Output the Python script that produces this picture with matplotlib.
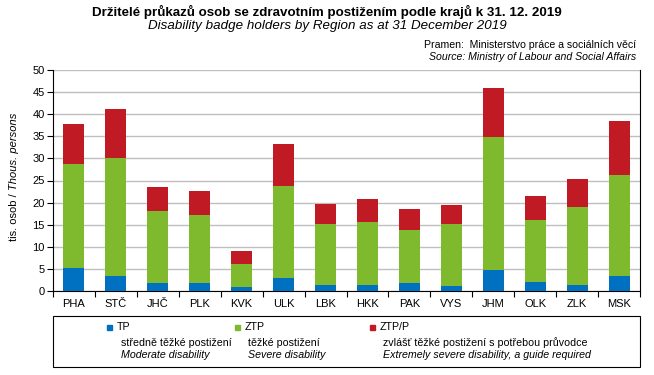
import matplotlib
matplotlib.use("Agg")
import matplotlib.pyplot as plt
from matplotlib.patches import Rectangle
import numpy as np

plt.rcParams['font.family'] = ['Liberation Sans', 'DejaVu Sans']

regions = ["PHA", "STČ", "JHČ", "PLK", "KVK", "ULK", "LBK", "HKK", "PAK", "VYS", "JHM", "OLK", "ZLK", "MSK"]
tp = [5.3, 3.5, 1.9, 1.7, 1.0, 3.0, 1.4, 1.4, 1.7, 1.2, 4.8, 2.1, 1.4, 3.5]
ztp = [23.5, 26.6, 16.3, 15.4, 5.2, 20.8, 13.8, 14.2, 12.2, 14.0, 30.0, 14.0, 17.6, 22.8]
ztpp = [9.0, 11.1, 5.4, 5.6, 2.9, 9.5, 4.5, 5.2, 4.7, 4.3, 11.1, 5.4, 6.3, 12.2]

series_names = ["TP", "ZTP", "ZTP/P"]
series_cz = ["středně těžké postižení", "těžké postižení", "zvlášť těžké postižení s potřebou průvodce"]
series_en = ["Moderate disability", "Severe disability", "Extremely severe disability, a guide required"]
colors = ["#0070C0", "#7FBA2E", "#C01B25"]

W, H = 654, 375
fig = plt.figure(figsize=(W / 100, H / 100), dpi=100)
ax = fig.add_axes([53 / W, 1 - 291 / H, (640 - 53) / W, (291 - 70) / H])

x = np.arange(len(regions))
bottom = np.zeros(len(regions))
for vals, c in zip([tp, ztp, ztpp], colors):
    ax.bar(x, vals, width=0.5, bottom=bottom, color=c, zorder=3)
    bottom += np.array(vals)

ax.set_xlim(-0.5, len(regions) - 0.5)
ax.set_ylim(0, 50)
ax.set_yticks(np.arange(0, 51, 5))
ax.yaxis.grid(True, color="#BFBFBF", linewidth=1, zorder=0)
ax.set_xticks(x)
ax.set_xticklabels(regions)
ax.set_xticks(np.arange(-0.5, len(regions), 1), minor=True)
ax.tick_params(axis='x', which='major', length=0, labelsize=8, pad=6)
ax.tick_params(axis='x', which='minor', length=4, width=0.8, direction='out')
ax.tick_params(axis='y', length=4, width=0.8, labelsize=8, direction='out', pad=2)
ax.spines['top'].set_visible(False)
for s in ['left', 'bottom', 'right']:
    ax.spines[s].set_linewidth(0.8)
    ax.spines[s].set_color('black')

# Titles
fig.text(327 / W, 1 - 12 / H, "Držitelé průkazů osob se zdravotním postižením podle krajů k 31. 12. 2019",
         ha='center', va='center', fontsize=9.6, fontweight='bold')
fig.text(327 / W, 1 - 26 / H, "Disability badge holders by Region as at 31 December 2019",
         ha='center', va='center', fontsize=9.6, style='italic')
fig.text(636 / W, 1 - 45 / H, "Pramen:  Ministerstvo práce a sociálních věcí",
         ha='right', va='center', fontsize=7.6)
fig.text(636 / W, 1 - 57 / H, "Source: Ministry of Labour and Social Affairs",
         ha='right', va='center', fontsize=7.6, style='italic')

# Y label with mixed styles
fig.canvas.draw()
r = fig.canvas.get_renderer()
t1 = fig.text(14 / W, 1 - 241 / H, "tis. osob / ", rotation=90, ha='center', va='bottom', fontsize=8)
bb = t1.get_window_extent(r)
fig.text(14 / W, bb.y1 / H, "Thous. persons", rotation=90, ha='center', va='bottom', fontsize=8, style='italic')

# Legend box
fig.patches.append(Rectangle((53 / W, 1 - 367 / H), (640 - 53) / W, (367 - 316) / H,
                             transform=fig.transFigure, fill=False, edgecolor='black', linewidth=0.8))
sq_x = [109.5, 237.5, 372.5]
txt_x = [121, 248, 383]
for i in range(3):
    fig.patches.append(Rectangle(((sq_x[i] - 2.5) / W, 1 - (327 + 2.5) / H), 5 / W, 5 / H,
                                 transform=fig.transFigure, color=colors[i]))
    fig.text((sq_x[i] + 7) / W, 1 - 326.5 / H, series_names[i], ha='left', va='center', fontsize=7.7)
    fig.text(txt_x[i] / W, 1 - 342.5 / H, series_cz[i], ha='left', va='center', fontsize=7.7)
    fig.text(txt_x[i] / W, 1 - 355 / H, series_en[i], ha='left', va='center', fontsize=7.7, style='italic')

fig.savefig("out.png", dpi=100)
